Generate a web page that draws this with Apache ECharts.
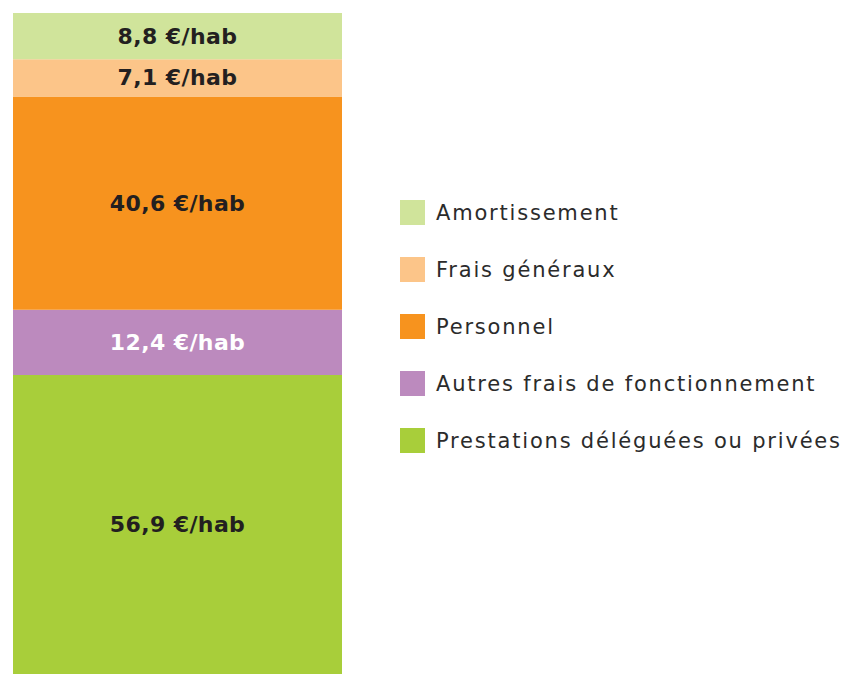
<!DOCTYPE html>
<html>
<head>
<meta charset="utf-8">
<script src="https://cdn.jsdelivr.net/npm/echarts@6/dist/echarts.min.js"></script>
<style>
  html, body { margin: 0; padding: 0; background: #fff; }
  #chart { width: 845px; height: 674px; }
  /* le texte de légende est espacé dans l'original */
  #chart text[fill="#2b2b2b"] { letter-spacing: 1.8px; }
  #chart text[fill="#231f20"], #chart text[fill="#231F20"], #chart text[fill="#fff"] { letter-spacing: 0.4px; }
</style>
</head>
<body>
<div id="chart"></div>
<script>
// postes de coût, du bas vers le haut de la barre
const postes = [
  "Prestations déléguées ou privées",
  "Autres frais de fonctionnement",
  "Personnel",
  "Frais généraux",
  "Amortissement",
];
const valeurs = [56.9, 12.4, 40.6, 7.1, 8.8]; // €/hab
const couleurs = ["#A8CE3A", "#BC8ABE", "#F7931E", "#FCC589", "#D0E49B"];
const couleursLabel = ["#231F20", "#fff", "#231F20", "#231F20", "#231F20"];

const total = valeurs.reduce((a, b) => a + b, 0);

const chart = echarts.init(document.getElementById("chart"), null, { renderer: "svg" });

let series = postes.map((nom, i) => {
  return {
    name: nom,
    type: "bar",
    stack: "total",
    barWidth: "100%",
    data: [valeurs[i]],
    itemStyle: { color: couleurs[i] },
    label: {
      show: true,
      position: "inside",
      formatter: (p) => String(p.value).replace(".", ",") + " €/hab",
      color: couleursLabel[i],
      fontFamily: "DejaVu Sans",
      fontWeight: "bold",
      fontSize: 22,
    },
  };
});

let option = {
  animation: false,
  grid: { left: 13, top: 13, width: 329, height: 661 },
  xAxis: {
    type: "category",
    data: ["coût"],
    show: false,
  },
  yAxis: {
    type: "value",
    min: 0,
    max: total,
    show: false,
  },
  legend: {
    orient: "vertical",
    left: 395,
    top: 195,
    itemWidth: 25,
    itemHeight: 25,
    itemGap: 32,
    icon: "rect",
    data: postes.slice().reverse(),
    textStyle: {
      fontFamily: "DejaVu Sans",
      fontSize: 21,
      color: "#2b2b2b",
      padding: [8, 0, 0, 6],
    },
  },
  series,
};

chart.setOption(option);
</script>
</body>
</html>
